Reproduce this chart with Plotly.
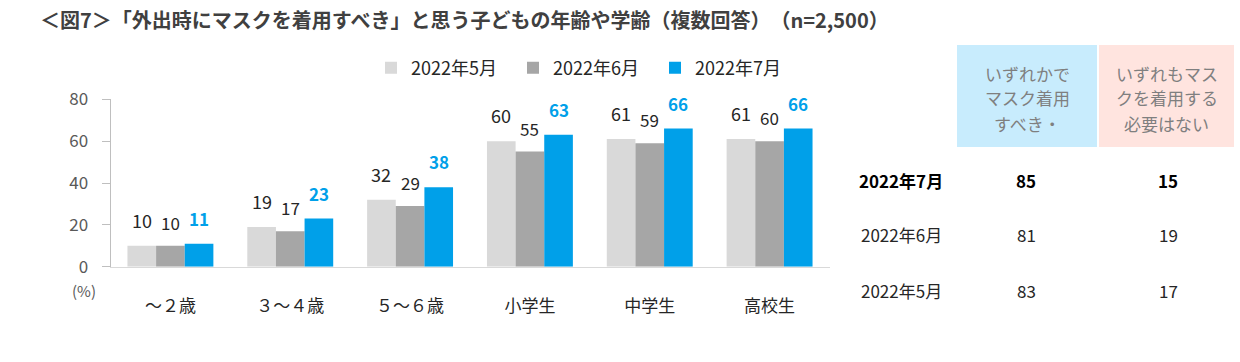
import plotly.graph_objects as go

categories = ["～２歳", "３～４歳", "５～６歳", "小学生", "中学生", "高校生"]
series_names = ["2022年5月", "2022年6月", "2022年7月"]
may = [10, 19, 32, 60, 61, 61]
june = [10, 17, 29, 55, 59, 60]
july = [11, 23, 38, 63, 66, 66]

table_header_any = ["いずれかで", "マスク着用", "すべき・"]
table_header_none = ["いずれもマス", "クを着用する", "必要はない"]
table_rows = ["2022年7月", "2022年6月", "2022年5月"]
table_any = [85, 81, 83]
table_none = [15, 19, 17]

colors = ["#D9D9D9", "#A6A6A6", "#00A0E9"]
FONT = "Noto Sans CJK JP"
W, H = 1240, 362

def px(x):
    return x / W

def py(y):
    return 1 - y / H

fig = go.Figure()
for name, vals, col in zip(series_names, [may, june, july], colors):
    fig.add_trace(go.Bar(x=categories, y=vals, name=name, marker_color=col,
                         marker_line_width=0, hoverinfo="skip"))

bar_w = 120 * (1 - 0.283) / 3
label_styles = [
    dict(size=18, color="#262626", bold=False, shift=-bar_w, ys=11),
    dict(size=17, color="#262626", bold=False, shift=0, ys=9),
    dict(size=17, color="#00A0E9", bold=True, shift=bar_w, ys=11),
]
for vals, st in zip([may, june, july], label_styles):
    for c, v in zip(categories, vals):
        txt = f"<b>{v}</b>" if st["bold"] else str(v)
        fig.add_annotation(x=c, y=v, xref="x", yref="y", text=txt, showarrow=False,
                           xshift=st["shift"], yshift=st["ys"], yanchor="bottom",
                           font=dict(family=FONT, size=st["size"], color=st["color"]))

fig.update_layout(
    width=W, height=H,
    margin=dict(l=0, r=0, t=0, b=0, autoexpand=False),
    paper_bgcolor="white", plot_bgcolor="white",
    barmode="group", bargap=0.283, bargroupgap=0,
    font=dict(family=FONT, color="#404040"),
    showlegend=True,
    legend=dict(orientation="h", x=px(371), xanchor="left", y=py(68), yanchor="middle",
                font=dict(family=FONT, size=18, color="#262626"),
                entrywidth=97, entrywidthmode="pixels",
                traceorder="normal", itemclick=False, bgcolor="rgba(0,0,0,0)"),
    xaxis=dict(domain=[px(110.5), px(829.5)], showline=True, linecolor="#D9D9D9", linewidth=1,
               ticks="", showgrid=False, tickfont=dict(family=FONT, size=17, color="#262626"),
               ticklabelstandoff=24, fixedrange=True, automargin=False),
    yaxis=dict(domain=[py(266.7), py(99.3)], range=[0, 80], dtick=20, showline=True,
               linecolor="#BFBFBF", linewidth=1, ticks="outside", ticklen=8, tickcolor="#BFBFBF",
               showgrid=False, zeroline=False, tickfont=dict(family=FONT, size=17, color="#595959"),
               ticklabelstandoff=10, fixedrange=True, automargin=False),
)

# title
fig.add_annotation(xref="paper", yref="paper", x=px(38), y=py(20), xanchor="left", yanchor="middle",
                   text="<b>＜図7＞「外出時にマスクを着用すべき」と思う子どもの年齢や学齢（複数回答）　（n=2,500）</b>",
                   showarrow=False, font=dict(family=FONT, size=20, color="#404040"))
# (%)
fig.add_annotation(xref="paper", yref="paper", x=px(84), y=py(290), xanchor="center", yanchor="middle",
                   text="(%)", showarrow=False, font=dict(family=FONT, size=15, color="#595959"))

# table header boxes
header_boxes = [(957, 1097, "#C8ECFD"), (1099, 1234, "#FFE4DF")]
for (x0, x1, fc), lines in zip(header_boxes, [table_header_any, table_header_none]):
    fig.add_shape(type="rect", xref="paper", yref="paper", x0=px(x0), x1=px(x1), y0=py(147), y1=py(45),
                  fillcolor=fc, line_width=0, layer="below")
    for ly, ln in zip([73, 98, 123], lines):
        fig.add_annotation(xref="paper", yref="paper", x=px((x0 + x1) / 2), y=py(ly), xanchor="center",
                           yanchor="middle", text=ln, showarrow=False, align="center",
                           font=dict(family=FONT, size=17, color="#7F7F7F"))

row_y = [180, 235, 290]
for i, (lab, a, n, yy) in enumerate(zip(table_rows, table_any, table_none, row_y)):
    bold = i == 0
    fmt = (lambda s: f"<b>{s}</b>") if bold else (lambda s: str(s))
    col = "#000000" if bold else "#262626"
    for xx, t in [(901, lab), (1026, a), (1168, n)]:
        fig.add_annotation(xref="paper", yref="paper", x=px(xx), y=py(yy), xanchor="center",
                           yanchor="middle", text=fmt(t), showarrow=False,
                           font=dict(family=FONT, size=17, color=col))

fig.write_html("out.html", config={"displayModeBar": False},
               post_script="document.body.style.margin='0';document.body.style.overflow='hidden';")
